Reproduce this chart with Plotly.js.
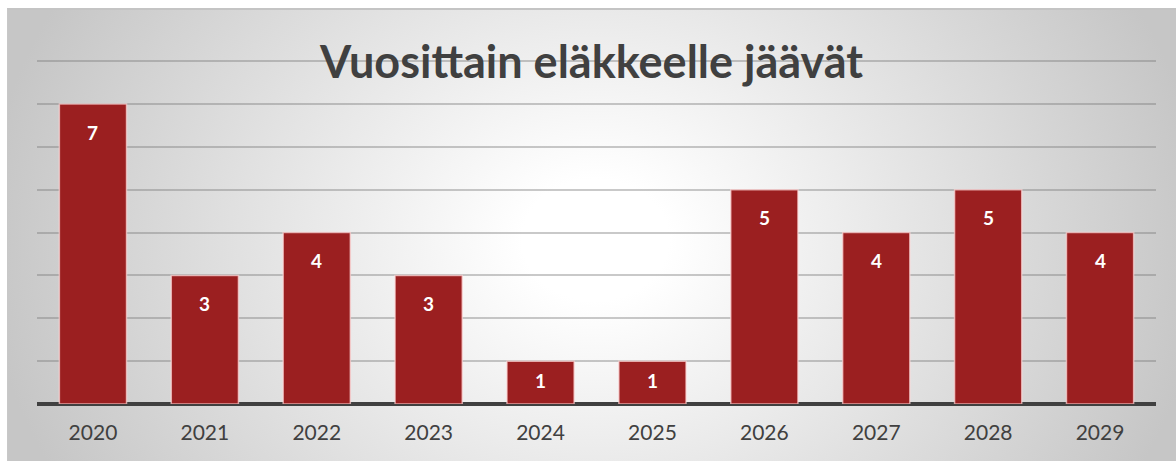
<!DOCTYPE html>
<html>
<head>
<meta charset="utf-8">
<script src="https://cdn.plot.ly/plotly-3.0.1.min.js"></script>
<style>
  body { margin: 0; background: #ffffff; }
  #wrap { position: relative; width: 1176px; height: 461px; overflow: hidden; }
  #bg {
    position: absolute; left: 7px; top: 8px; width: 1175px; height: 460px;
    border-top: 2px solid #c4c4c4; border-left: 1px solid #c8c8c8;
    background: radial-gradient(ellipse 52% 110% at 50% 50%, #ffffff 12%, #c6c6c6 100%);
  }
  #plot { position: absolute; left: 0; top: 0; width: 1176px; height: 461px; }
</style>
</head>
<body>
<div id="wrap">
  <div id="bg"></div>
  <div id="plot"></div>
</div>
<script>
document.addEventListener("DOMContentLoaded", function() {
    var years = ['2020', '2021', '2022', '2023', '2024', '2025', '2026', '2027', '2028', '2029'];
    var retirees = [7, 3, 4, 3, 1, 1, 5, 4, 5, 4];

    var trace = {
      type: 'bar',
      x: years,
      y: retirees,
      marker: {
        color: '#9b1f20',
        line: { color: 'rgba(255,215,215,0.7)', width: 1.5 }
      },
      hoverinfo: 'x+y'
    };

    // data labels near the top of each bar; short bars get them centred
    var labels = years.map(function(yr, i) {
      return {
        x: i, y: retirees[i], text: String(retirees[i]),
        showarrow: false, yshift: retirees[i] > 1 ? -28 : -19,
        font: { family: 'Lato, "Open Sans", sans-serif', size: 19, color: '#ffffff', weight: 'bold' }
      };
    });

    var layout = {
      width: 1176,
      height: 461,
      margin: { l: 37, r: 20, t: 59, b: 57 },
      paper_bgcolor: 'rgba(0,0,0,0)',
      plot_bgcolor: 'rgba(0,0,0,0)',
      bargap: 0.4,
      showlegend: false,
      title: {
        text: '<b>Vuosittain eläkkeelle jäävät</b>',
        x: 0.503, xanchor: 'center',
        y: 0.865, yanchor: 'middle',
        font: { family: 'Lato, "Open Sans", sans-serif', size: 45, color: '#404040' }
      },
      xaxis: {
        type: 'category',
        range: [-0.5, 9.5],
        showgrid: false,
        showline: false,
        ticks: '',
        tickfont: { family: 'Lato, "Open Sans", sans-serif', size: 21, color: '#404040' },
        ticklabelstandoff: 14
      },
      yaxis: {
        range: [0, 8.05],
        dtick: 1,
        showticklabels: false,
        showgrid: true,
        gridcolor: 'rgba(120,120,120,0.4)',
        gridwidth: 2,
        zeroline: true,
        zerolinecolor: '#404040',
        zerolinewidth: 4
      },
      annotations: labels
    };

    Plotly.newPlot('plot', [trace], layout, { displayModeBar: false });
});
</script>
</body>
</html>
